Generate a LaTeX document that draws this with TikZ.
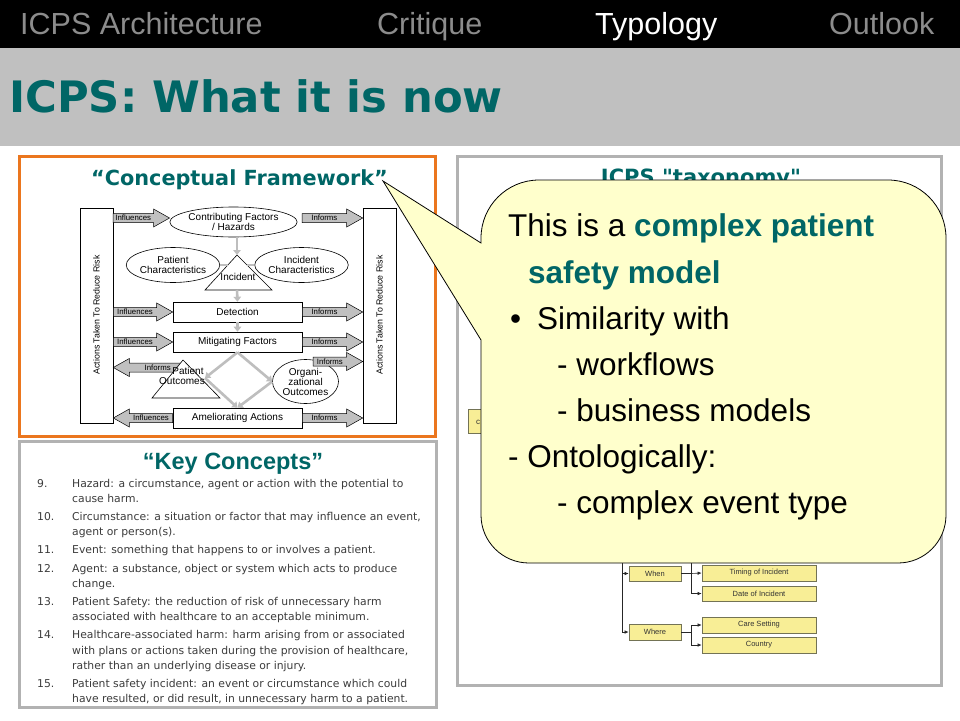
\documentclass[tikz,border=0pt]{standalone}
\usepackage{fontspec}
\setmainfont{Liberation Sans}
\newfontfamily\dvs{DejaVu Sans}
\usetikzlibrary{shapes.geometric,calc,arrows.meta}
\definecolor{teal6}{RGB}{0,102,102}
\definecolor{navgray}{RGB}{140,140,140}
\definecolor{bandgray}{RGB}{192,192,192}
\definecolor{orng}{RGB}{235,118,30}
\definecolor{pgray}{RGB}{178,178,178}
\definecolor{lgray}{RGB}{190,190,190}
\definecolor{afill}{RGB}{192,192,192}
\definecolor{cyellow}{RGB}{255,255,204}
\definecolor{tyellow}{RGB}{248,238,150}
\definecolor{tborder}{RGB}{115,115,85}
\definecolor{ktext}{RGB}{60,60,60}
\newcommand\myfs[2]{\fontsize{#1}{#2}\selectfont}
\newcommand\strq{\XeTeXglyph\XeTeXcharglyph"22\relax}
\tikzset{
  navtext/.style={anchor=base west, inner sep=0, font=\myfs{30.5}{34}},
  fbox/.style={draw, line width=0.6pt, fill=white, inner sep=0, font=\myfs{10}{10}, minimum width=129pt, minimum height=20pt},
  fell/.style={ellipse, draw, line width=0.6pt, fill=white, inner sep=0, font=\myfs{10}{10}, align=center},
  tall/.style={draw, line width=0.6pt, fill=white, minimum width=33pt, minimum height=215pt, inner sep=0},
  blockarrow/.style={draw, line width=0.5pt, fill=afill},
  arrlabel/.style={font=\myfs{7.8}{8}, inner sep=0},
  ftext/.style={font=\myfs{10}{10}, inner sep=0},
  gconn/.style={draw=lgray, line width=2.6pt, -{Triangle[length=5pt,width=7.5pt]}},
  gline/.style={draw=lgray, line width=2.6pt},
  kline/.style={anchor=base west, inner sep=0, font=\dvs\myfs{10.8}{12}, text=ktext},
  ctext/.style={anchor=base west, inner sep=0, font=\myfs{31.5}{36}},
  tbox/.style={draw=tborder, fill=tyellow, line width=0.7pt, inner sep=0, font=\myfs{7.5}{8}, text=black!80},
  tline/.style={draw=black!85, line width=0.6pt},
  tarrow/.style={tline, -{Latex[length=4pt,width=3.5pt]}},
}
% block arrow: #1 tail coordinate, #2 tip coordinate, #3 label, #4 direction (1 right, -1 left)
\newcommand\barrow[4]{%
  \draw[blockarrow] ($(#1)+(0,-4.5)$) -- ($(#2)+(-16*#4,-4.5)$) -- ($(#2)+(-16*#4,-9)$) -- (#2)
     -- ($(#2)+(-16*#4,9)$) -- ($(#2)+(-16*#4,4.5)$) -- ($(#1)+(0,4.5)$) -- cycle;
  \node[arrlabel] at ($(#1)!0.5!(#2)+(-8*#4,0)$) {#3};
}
\begin{document}
\begin{tikzpicture}[x=1pt,y=-1pt]
\useasboundingbox (0,0) rectangle (960,720);
\fill[white] (0,0) rectangle (960,720);
% header
\fill[black] (0,0) rectangle (960,48);
\fill[bandgray] (0,48) rectangle (960,146);
\node[navtext, text=navgray] (nav1) at (20,34) {ICPS Architecture};
\node[navtext, text=navgray] (nav2) at (377,34) {Critique};
\node[navtext, text=white] (nav3) at (595,34) {Typology};
\node[navtext, text=navgray] (nav4) at (829,34) {Outlook};
\node[anchor=base west, inner sep=0, font=\dvs\bfseries\myfs{43.3}{48}, text=teal6] (title) at (9,112) {ICPS: What it is now};
% panels
\draw[orng, line width=3pt] (19.5,156.5) rectangle (435.5,436.5);
\draw[pgray, line width=3pt] (19.5,441.5) rectangle (436.5,707.5);
\draw[pgray, line width=3pt] (457.5,156.5) rectangle (941.5,685.5);
% conceptual framework
\node[anchor=base, inner sep=0, font=\dvs\bfseries\myfs{20.8}{24}, text=teal6] (cft) at (239.5,185) {“Conceptual Framework”};
\node[tall] (lbox) at (96.5,315.5) {};
\node[tall] (rbox) at (379.5,315.5) {};
\node[rotate=90, font=\myfs{8.8}{9}, inner sep=0] (lboxt) at (96.5,315) {Actions Taken To Reduce Risk};
\node[rotate=90, font=\myfs{8.8}{9}, inner sep=0] (rboxt) at (379.5,315) {Actions Taken To Reduce Risk};
\node[fell, minimum width=119pt, minimum height=30pt] (cf) at (233.5,222) {Contributing Factors\\/ Hazards};
\node[fell, minimum width=80pt, minimum height=35pt] (pc) at (173,265) {Patient\\Characteristics};
\node[fell, minimum width=76pt, minimum height=35pt] (ic) at (301.5,265) {Incident\\Characteristics};
\node[fbox] (det) at (237.5,312) {Detection};
\node[fbox] (mit) at (237.5,342) {Mitigating Factors};
\node[fbox] (amel) at (237.5,418) {Ameliorating Actions};
\node[fell, minimum width=66pt, minimum height=44pt] (org) at (305.5,381.5) {Organi-\\zational\\Outcomes};
% incident triangle
\coordinate (incT) at (237,255);
\coordinate (incL) at (205,290);
\coordinate (incR) at (272,290);
\coordinate (incB) at (237,290);
\coordinate (incLe) at (228,265);
\coordinate (incRe) at (247,265);
% block arrows
\coordinate (i1s) at (113,218);
\coordinate (i1e) at (cf.west |- i1s);
\coordinate (o1s) at (302,218);
\coordinate (o1e) at (rbox.west |- o1s);
\coordinate (i2s) at (lbox.east |- det.west);
\coordinate (o2e) at (rbox.west |- det.east);
\coordinate (i3s) at (lbox.east |- mit.west);
\coordinate (o3e) at (rbox.west |- mit.east);
\coordinate (o4s) at (313,361.5);
\coordinate (o4e) at (rbox.west |- o4s);
\coordinate (o5s) at (186,367.5);
\coordinate (o5e) at (lbox.east |- o5s);
\coordinate (i4e) at (lbox.east |- amel.west);
\coordinate (o6e) at (rbox.west |- amel.east);
\barrow{i1s}{i1e}{Influences}{1}
\barrow{o1s}{o1e}{Informs}{1}
\barrow{i2s}{det.west}{Influences}{1}
\barrow{det.east}{o2e}{Informs}{1}
\barrow{i3s}{mit.west}{Influences}{1}
\barrow{mit.east}{o3e}{Informs}{1}
\barrow{o4s}{o4e}{Informs}{1}
\barrow{o5s}{o5e}{Informs}{-1}
\barrow{amel.west}{i4e}{Influences}{-1}
\barrow{amel.east}{o6e}{Informs}{1}
% triangles
\draw[fill=white, line width=0.6pt] (incT) -- (incR) -- (incL) -- cycle;
\node[ftext] (inc) at (238,277) {Incident};
\coordinate (poT) at (183,360);
\coordinate (poL) at (152,398);
\coordinate (poR) at (220,398);
\draw[fill=white, line width=0.6pt] (poT) -- (poR) -- (poL) -- cycle;
\node[ftext] (po1) at (188,370.5) {Patient};
\node[ftext] (po2) at (182,381.5) {Outcomes};
\coordinate (poP) at (205,378);
% gray flow connectors
\draw[gconn] (incT |- cf.south) -- (incT);
\draw[gline] (pc.east) -- (incLe);
\draw[gline] (ic.west) -- (incRe);
\draw[gconn] (incB) -- (det.north);
\draw[gconn] (det.south) -- (mit.north);
\draw[gconn] (mit.south) -- (poP);
\draw[gconn] (mit.south) -- (org.west);
\draw[gconn] (poP) -- (amel.north);
\draw[gconn] (org.west) -- (amel.north);
% key concepts
\node[anchor=base, inner sep=0, font=\bfseries\myfs{23.5}{26}, text=teal6] (kct) at (233,469) {“Key Concepts”};
\node[kline] (n9) at (37,487.6) {9.};
\node[kline] (k9a) at (72,487.6) {Hazard: a circumstance, agent or action with the potential to};
\node[kline] (k9b) at (72,502.7) {cause harm.};
\node[kline] (n10) at (37,520.5) {10.};
\node[kline] (k10a) at (72,520.5) {Circumstance: a situation or factor that may influence an event,};
\node[kline] (k10b) at (72,535.3) {agent or person(s).};
\node[kline] (n11) at (37,553) {11.};
\node[kline] (k11a) at (72,553) {Event: something that happens to or involves a patient.};
\node[kline] (n12) at (37,572.2) {12.};
\node[kline] (k12a) at (72,572.2) {Agent: a substance, object or system which acts to produce};
\node[kline] (k12b) at (72,587.3) {change.};
\node[kline] (n13) at (37,605) {13.};
\node[kline] (k13a) at (72,605) {Patient Safety: the reduction of risk of unnecessary harm};
\node[kline] (k13b) at (72,620.2) {associated with healthcare to an acceptable minimum.};
\node[kline] (n14) at (37,638.6) {14.};
\node[kline] (k14a) at (72,638.6) {Healthcare-associated harm: harm arising from or associated};
\node[kline] (k14b) at (72,654.4) {with plans or actions taken during the provision of healthcare,};
\node[kline] (k14c) at (72,669.5) {rather than an underlying disease or injury.};
\node[kline] (n15) at (37,687.3) {15.};
\node[kline] (k15a) at (72,687.3) {Patient safety incident: an event or circumstance which could};
\node[kline] (k15b) at (72,702.4) {have resulted, or did result, in unnecessary harm to a patient.};
% taxonomy (visible parts)
\node[anchor=base, inner sep=0, font=\dvs\bfseries\myfs{21}{24}, text=teal6] (taxt) at (701,184) {ICPS \strq taxonomy\strq};
\node[tbox, minimum width=60pt, minimum height=24pt, anchor=north west] (cbox) at (468,409) {};
\node[font=\myfs{8}{8}, inner sep=0, text=black!80] (cboxt) at (478,422) {c};
\node[tbox, minimum width=52pt, minimum height=15pt] (when) at (655,573.5) {When};
\node[tbox, minimum width=52pt, minimum height=16pt] (where) at (655,632) {Where};
\node[tbox, minimum width=114pt, minimum height=16pt] (timing) at (759,573) {Timing of Incident};
\node[tbox, minimum width=114pt, minimum height=15pt] (date) at (759,593.5) {Date of Incident};
\node[tbox, minimum width=114pt, minimum height=16pt] (care) at (759,625) {Care Setting};
\node[tbox, minimum width=114pt, minimum height=16pt] (country) at (759,645) {Country};
\coordinate (tv1) at (622,552);
\coordinate (tv2) at (622,632);
\coordinate (tw) at (622,573.5);
\coordinate (j1) at (691,573.5);
\coordinate (j1t) at (691,560);
\coordinate (j1b) at (691,593.5);
\coordinate (j2) at (691,632);
\coordinate (j2t) at (691,625);
\coordinate (j2b) at (691,645);
\draw[tline] (tv1) -- (tv2);
\draw[tarrow] (tw) -- (when.west);
\draw[tarrow] (tv2) -- (where.west);
\draw[tline] (when.east) -- (j1);
\draw[tline] (j1t) -- (j1b);
\draw[tarrow] (j1) -- (timing.west);
\draw[tarrow] (j1b) -- (date.west);
\draw[tline] (where.east) -- (j2);
\draw[tline] (j2t) -- (j2b);
\draw[tarrow] (j2t) -- (care.west);
\draw[tarrow] (j2b) -- (country.west);
% callout
\coordinate (ctip) at (383,181);
\draw[fill=cyellow, draw=black, line width=0.8pt] (481,243) -- (ctip) -- (481,340) -- (481,515)
  arc(180:90:48) -- (898,563) arc(90:0:48) -- (946,238) arc(0:-90:58) -- (539,180) arc(-90:-180:58) -- cycle;
\node[ctext] (c1) at (508,236) {This is a \textcolor{teal6}{\bfseries complex patient}};
\node[ctext, text=teal6, font=\bfseries\myfs{31.5}{36}] (c2) at (528,283) {safety model};
\node[ctext] (c3b) at (510,329) {•};
\node[ctext] (c3) at (537,329) {Similarity with};
\node[ctext] (c4) at (557,375) {- workflows};
\node[ctext] (c5) at (557,421) {- business models};
\node[ctext] (c6) at (508,467) {- Ontologically:};
\node[ctext] (c7) at (557,513) {- complex event type};
\end{tikzpicture}
\end{document}
